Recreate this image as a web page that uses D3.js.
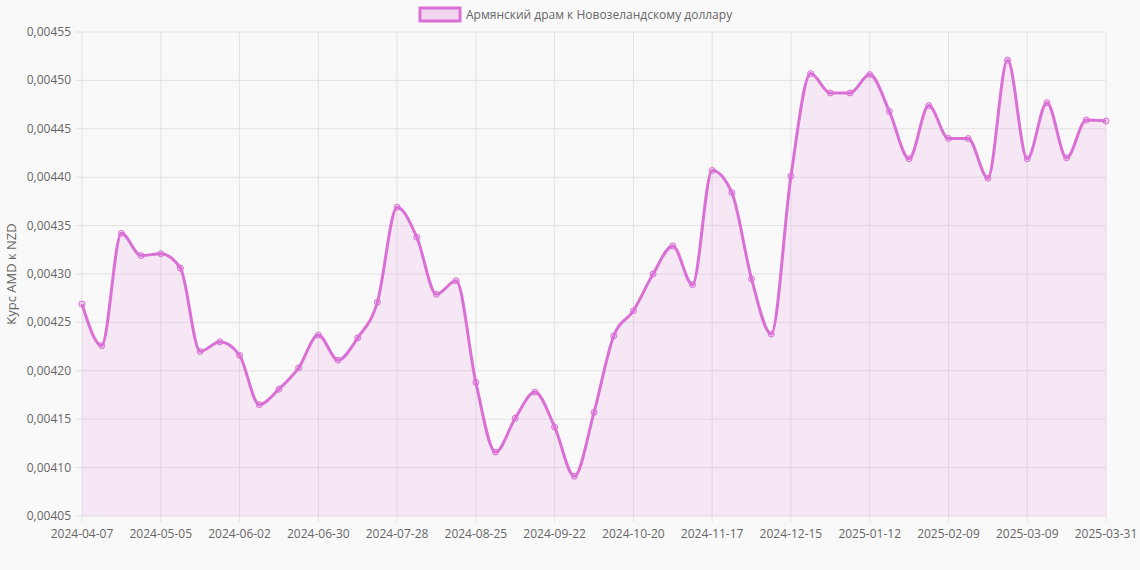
<!DOCTYPE html>
<html><head><meta charset="utf-8">
<script src="https://cdn.jsdelivr.net/npm/d3@7"></script>
<style>body{margin:0;background:#f9f9f9;font-family:"Open Sans",Arial,sans-serif}</style>
</head><body><svg id="chart" width="1140" height="570"></svg>
<script>
const dates = ["2024-04-07","2024-04-14","2024-04-21","2024-04-28","2024-05-05","2024-05-12","2024-05-19","2024-05-26",
"2024-06-02","2024-06-09","2024-06-16","2024-06-23","2024-06-30","2024-07-07","2024-07-14","2024-07-21","2024-07-28",
"2024-08-04","2024-08-11","2024-08-18","2024-08-25","2024-09-01","2024-09-08","2024-09-15","2024-09-22","2024-09-29",
"2024-10-06","2024-10-13","2024-10-20","2024-10-27","2024-11-03","2024-11-10","2024-11-17","2024-11-24","2024-12-01",
"2024-12-08","2024-12-15","2024-12-22","2024-12-29","2025-01-05","2025-01-12","2025-01-19","2025-01-26","2025-02-02",
"2025-02-09","2025-02-16","2025-02-23","2025-03-02","2025-03-09","2025-03-16","2025-03-23","2025-03-30","2025-03-31"];
const rates = [0.004269,0.004226,0.004342,0.004319,0.004321,0.004306,0.004220,0.004230,0.004216,0.004165,0.004181,
0.004203,0.004237,0.004211,0.004234,0.004271,0.004369,0.004338,0.004279,0.004293,0.004188,0.004116,0.004151,0.004178,
0.004142,0.004091,0.004157,0.004236,0.004262,0.004300,0.004329,0.004289,0.004407,0.004384,0.004295,0.004238,0.004401,
0.004507,0.004487,0.004487,0.004506,0.004468,0.004419,0.004474,0.004440,0.004440,0.004399,0.004521,0.004419,0.004477,
0.004420,0.004459,0.004458];
const yTicks = [0.00405,0.0041,0.00415,0.0042,0.00425,0.0043,0.00435,0.0044,0.00445,0.0045,0.00455];
const xTickIdx = [0,4,8,12,16,20,24,28,32,36,40,44,48,52];
const seriesName = "Армянский драм к Новозеландскому доллару";
const color = "#da70d6";

let svg = d3.select("#chart");
let x = d3.scalePoint().domain(d3.range(dates.length)).range([82, 1106]);
let y = d3.scaleLinear().domain([0.00405, 0.00455]).range([516, 32]);
let fmt = d => d.toFixed(5).replace(".", ",");

// grid
svg.append("g").selectAll("line").data(yTicks).enter().append("line")
    .attr("x1", 76).attr("x2", 1106).attr("y1", d => y(d)).attr("y2", d => y(d))
    .attr("stroke", "#e2e2e2");
svg.append("g").selectAll("line").data(xTickIdx).enter().append("line")
    .attr("x1", d => x(d)).attr("x2", d => x(d)).attr("y1", 32).attr("y2", 522)
    .attr("stroke", "#e2e2e2");

svg.append("g").selectAll("text").data(yTicks).enter().append("text")
    .attr("x", 71).attr("y", d => y(d) + 4).attr("text-anchor", "end")
    .style("font-size", "12px").style("fill", "#666").text(fmt);
svg.append("g").selectAll("text").data(xTickIdx).enter().append("text")
    .attr("x", d => x(d)).attr("y", 538).attr("text-anchor", "middle")
    .style("font-size", "12px").style("fill", "#666").text(d => dates[d]);

svg.append("text").attr("transform", "rotate(-90)").attr("x", -274).attr("y", 16)
    .attr("text-anchor", "middle").style("font-size", "13px").style("fill", "#666")
    .text("Курс AMD к NZD");

// area + line
svg.append("path").datum(rates)
    .attr("d", d3.area().x((d, i) => x(i)).y0(516).y1(d => y(d)).curve(d3.curveMonotoneX))
    .attr("fill", "rgba(218,112,214,0.12)");
svg.append("path").datum(rates)
    .attr("d", d3.line().x((d, i) => x(i)).y(d => y(d)).curve(d3.curveMonotoneX))
    .attr("fill", "none").attr("stroke", color).attr("stroke-width", 3);
svg.append("g").selectAll("circle").data(rates).enter().append("circle")
    .attr("cx", (d, i) => x(i)).attr("cy", d => y(d)).attr("r", 3)
    .attr("fill", "rgba(218,112,214,0.25)").attr("stroke", color).attr("stroke-width", 1);

// legend
let lg = svg.append("g");
lg.append("rect").attr("x", 420).attr("y", 8).attr("width", 40).attr("height", 13)
    .attr("fill", "rgba(218,112,214,0.25)").attr("stroke", color).attr("stroke-width", 3);
lg.append("text").attr("x", 466).attr("y", 19).style("font-size", "12px").style("fill", "#666")
    .text(seriesName);
</script></body></html>
